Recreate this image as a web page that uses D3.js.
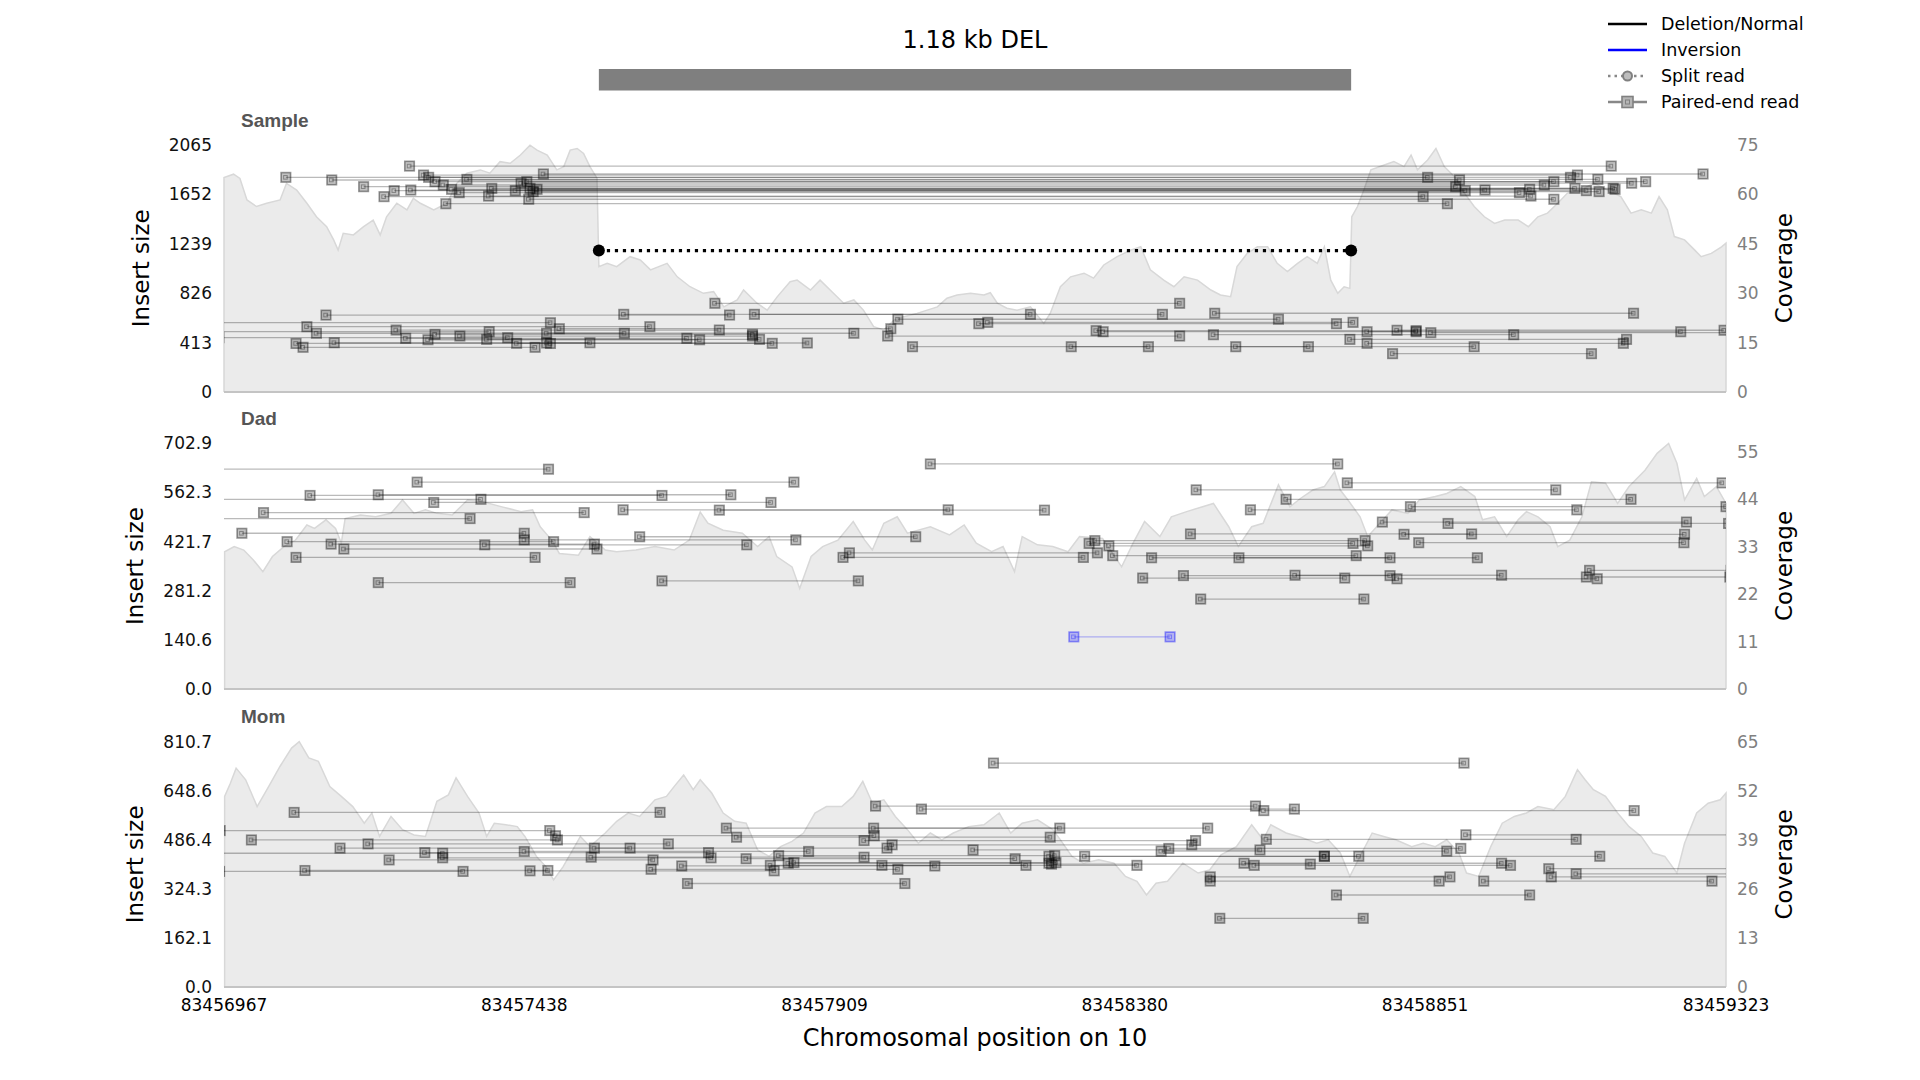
<!DOCTYPE html>
<html><head><meta charset="utf-8">
<script src="https://cdn.jsdelivr.net/npm/d3@7"></script>
<style>
body{margin:0;background:#fff;}
svg text{font-family:"DejaVu Sans",sans-serif;}
</style></head>
<body><svg id="chart" width="1920" height="1080"></svg>
<script>
// ---------------- data ----------------
const chromosome = "10";
const regionStart = 83456967, regionEnd = 83459323;
const xTickValues = [83456967, 83457438, 83457909, 83458380, 83458851, 83459323];
const svTitle = "1.18 kb DEL";
const svStart = 83457555, svEnd = 83458735;

const sampleNames = ["Sample", "Dad", "Mom"];
const sampleInsertTicks = [0, 413, 826, 1239, 1652, 2065];
const dadInsertTicks = [0, 140.6, 281.2, 421.7, 562.3, 702.9];
const momInsertTicks = [0, 162.1, 324.3, 486.4, 648.6, 810.7];
const sampleCovTicks = [0, 15, 30, 45, 60, 75];
const dadCovTicks = [0, 11, 22, 33, 44, 55];
const momCovTicks = [0, 13, 26, 39, 52, 65];
const covMaxima = [75, 57, 65];

const legendLabels = ["Deletion/Normal", "Inversion", "Split read", "Paired-end read"];

// paired-end reads: [start offset bp, end offset bp, insert size]
const samplePairs = [
 [97,1888,1791],[169,1938,1769],[291,2176,1885],[219,1932,1713],[251,1881,1630],[267,1947,1680],
 [293,1978,1685],[313,2123,1810],[321,2112,1791],[331,2086,1755],[344,2071,1727],[357,2048,1691],
 [369,2032,1663],[381,2155,1774],[348,1919,1571],[415,2050,1635],[420,2119,1699],[457,2137,1680],
 [475,2230,1755],[480,2179,1699],[478,2086,1608],[491,2182,1691],[501,2320,1819],[466,2208,1742],[485,2157,1672],
 [-75,512,578],[-87,416,503],[-8,445,453],[160,793,642],[130,668,545],[145,628,490],[113,512,405],
 [124,488,373],[173,574,411],[270,777,517],[285,726,448],[320,746,436],[331,829,481],[370,829,467],
 [412,840,439],[459,860,406],[506,915,409],[506,988,490],[526,1046,528],[627,1265,648],[770,1499,740],
 [832,1472,648],[1041,1499,467],[1057,1654,607],[1080,1450,378],[1184,1745,570],[1198,1771,581],
 [1329,1701,378],[1368,1870,512],[1379,1870,503],[1554,2211,657],[1552,2023,478],[1587,1961,378],
 [1766,2200,439],[1793,2195,406],[1793,2285,503],[1833,2145,320],[1893,2385,495],[1840,2353,515]
];
const sampleSplits = [[588,1768,1180]];

const dadPairs = [
 [-119,509,628],[303,894,591],[135,687,553],[242,795,555],[-139,403,542],[329,858,533],[-101,386,487],
 [62,565,504],[626,1136,512],[777,1287,511],[28,471,445],[99,517,421],[168,581,414],[188,585,400],
 [113,488,376],[409,820,412],[471,897,426],[652,1085,435],[242,543,304],[687,995,309],[1108,1747,643],
 [1762,2350,589],[1525,2089,569],[1666,2207,542],[1861,2356,521],[1610,2122,512],[1817,2294,477],
 [1920,2360,473],[1516,1957,443],[1851,2291,442],[1357,1771,416],[1388,1794,409],[1366,1790,424],
 [981,1370,389],[971,1348,376],[1394,1776,381],[1455,1829,375],[1592,1966,375],[1874,2290,418],
 [1441,1758,317],[1505,1829,324],[1680,2004,325],[1532,1788,257],[1840,2154,315],[2137,2362,320],[2142,2364,339]
];
const dadInversions = [[1333,1484,149]];

const momPairs = [
 [-6,511,517],[-99,343,442],[-7,375,382],[110,684,577],[43,523,486],[127,508,385],[182,637,459],
 [226,697,473],[259,673,420],[315,760,444],[343,764,427],[471,917,448],[520,1020,500],[576,1004,429],
 [581,1040,459],[670,1057,389],[718,1115,400],[727,1068,342],[480,863,384],[1207,1945,740],[1022,1618,598],
 [1094,1679,588],[788,1311,525],[1019,1543,525],[804,1296,495],[1004,1524,484],[1048,1518,470],
 [1175,1625,453],[819,1241,424],[857,1258,402],[870,1303,434],[885,1294,409],[894,1305,411],
 [1032,1432,402],[1350,1780,432],[1298,1704,406],[1294,1726,432],[1726,2158,432],[1482,1940,458],
 [1470,1918,449],[1616,2018,402],[1600,2004,409],[1635,2121,488],[1631,2212,583],[1547,1923,364],
 [1547,1906,350],[1976,2334,350],[1745,2048,304],[1562,1787,227],[1948,2451,503],[2078,2470,391],
 [2082,2446,364],[2121,2495,374]
];

// coverage: [offset bp, depth]
const sampleCoverage = [
 [0,65],[15,66],[25,64.7],[36,58.2],[51,56.2],[67,57.2],[88,58.2],[98,63.2],[114,61.2],[130,57.2],[145,53.1],
 [161,50.1],[172,46.1],[179,43],[187,48.1],[203,47.6],[219,50.1],[234,52.1],[245,47.6],[255,53.1],[271,57.2],
 [287,55.2],[297,58.7],[308,57.2],[329,55.2],[350,57.2],[365,63.2],[381,66.3],[402,67.3],[417,66.3],[433,69.8],
 [449,69.3],[465,71.8],[480,74.8],[491,73.3],[507,71.8],[522,67.3],[533,68.3],[543,73.3],[554,73.8],[564,72.3],
 [574,68.3],[585,64.8],[588,38],[601,39],[616,38],[637,41],[653,40],[669,37],[695,39],[711,34.9],[731,31.9],
 [752,29.9],[768,30.4],[784,25.8],[805,27.9],[815,30.9],[836,26.9],[852,24.8],[868,28.9],[888,33.4],[899,33.9],
 [920,30.9],[935,33.9],[956,29.9],[972,26.9],[988,27.9],[1003,24.8],[1019,19.8],[1035,18.8],[1051,21.8],
 [1066,22.8],[1087,23.8],[1103,24.8],[1119,25.8],[1134,28.4],[1150,29.4],[1171,29.9],[1192,29.4],[1202,30.1],
 [1213,26.9],[1228,25.4],[1244,24.8],[1265,25.8],[1286,20.8],[1296,23.8],[1312,31.9],[1328,34.9],[1349,36],
 [1364,34.5],[1380,38.5],[1401,41],[1422,43],[1438,44],[1453,37],[1474,33.9],[1490,31.9],[1506,34.9],
 [1527,33.9],[1548,30.9],[1563,29.4],[1579,28.9],[1589,38],[1605,42],[1621,44],[1637,44],[1652,39],
 [1668,36.5],[1684,39],[1699,41],[1715,39],[1726,44],[1736,33.9],[1747,29.9],[1757,31.9],[1766,31.4],
 [1769,53.1],[1778,56.2],[1788,61.2],[1799,67.3],[1820,68.8],[1835,69.8],[1851,68.3],[1862,71.8],[1872,67.3],
 [1888,70.3],[1901,73.8],[1914,68.3],[1930,65.2],[1946,60.2],[1961,56.2],[1977,53.1],[1993,51.1],[2009,52.1],
 [2030,52.1],[2046,50.1],[2061,53.1],[2076,54.2],[2092,57.2],[2107,60.2],[2128,61.2],[2149,63.2],[2170,61.2],
 [2191,59.2],[2207,54.2],[2223,55.2],[2239,54.2],[2251,59.2],[2264,55.2],[2275,47.1],[2291,46.1],[2307,43],
 [2317,41],[2333,42],[2349,44],[2356,45.1]
];
const dadCoverage = [
 [1,31.8],[16,33],[31,32.2],[46,29.9],[61,27.2],[76,30.7],[94,33],[112,34.5],[130,38],[142,37.2],[160,39.2],
 [175,37.2],[184,33.8],[190,39.5],[214,40.3],[238,39.9],[262,40.7],[280,43.8],[298,40.7],[316,41.5],[334,40.7],
 [358,40.3],[382,43.8],[406,43.4],[436,42.2],[466,41.1],[484,41.5],[496,37.6],[514,34.5],[526,31.4],[556,31],
 [574,35.3],[586,33.8],[598,32.2],[616,31.8],[646,32.2],[676,33],[706,32.2],[730,34.5],[747,41],[759,38.4],
 [783,36.8],[813,36.1],[837,33],[855,35.3],[867,30.7],[891,28.3],[903,23.3],[921,30.7],[939,33],[963,34.5],
 [987,38.8],[1005,34.5],[1017,32.2],[1035,38.4],[1056,39.9],[1072,36.1],[1108,37.6],[1138,35.7],[1161,38],
 [1180,33.8],[1204,31.8],[1222,33],[1240,27.2],[1252,35.3],[1276,33.4],[1300,33],[1324,31.8],[1342,35.3],
 [1378,34.9],[1408,28.3],[1426,33.8],[1444,38.8],[1468,35.3],[1486,39.9],[1510,41.1],[1552,43],[1576,37.6],
 [1591,33],[1612,37.6],[1630,38.4],[1654,47.3],[1672,42.2],[1689,44.2],[1708,46.1],[1726,46.9],[1742,50.3],
 [1751,46.1],[1763,43.8],[1782,39.9],[1794,35.3],[1813,38.4],[1832,41.5],[1857,40.7],[1875,43.8],[1900,44.6],
 [1918,45.3],[1940,46.9],[1962,44.6],[1974,39.2],[1993,39.9],[2012,35.3],[2030,39.2],[2043,41.1],[2061,39.9],
 [2080,37.6],[2092,33],[2111,34.5],[2130,39.9],[2145,48],[2167,47.7],[2186,43],[2204,46.9],[2229,50.7],
 [2248,54.6],[2266,56.9],[2279,52.3],[2291,43.8],[2310,48.8],[2322,44.6],[2341,46.9],[2356,43]
];
const momCoverage = [
 [1,50.5],[10,54],[19,58],[34,54.9],[52,47.8],[70,53.1],[88,58.5],[106,63.3],[118,65],[133,60.7],[148,59.8],
 [166,53.1],[184,50.5],[202,47.8],[220,43.4],[232,46.1],[244,39.9],[262,45.2],[280,41.7],[298,40.3],[316,39.9],
 [334,49.2],[352,50.9],[364,55.4],[382,50.5],[400,46.1],[412,39.9],[424,43.4],[442,43],[460,42.5],[472,39.9],
 [490,34.6],[505,31.9],[517,28.4],[532,31.9],[550,37.2],[559,39.9],[574,37.2],[598,40.8],[616,43.9],[634,46.1],
 [652,45.2],[676,49.6],[694,50.5],[706,53.1],[721,56.2],[736,52.3],[747,54.9],[765,51.4],[783,46.1],[801,43.9],
 [819,43.4],[837,36.3],[855,34.6],[873,37.2],[891,38.6],[909,40.8],[927,46.1],[945,47.8],[969,47.8],[987,50.5],
 [1002,54.5],[1017,48.7],[1035,49.6],[1053,45.2],[1072,41.7],[1089,38.1],[1108,40.8],[1126,39],[1144,40.8],
 [1168,42.5],[1192,43],[1216,46.1],[1234,40.8],[1252,43.4],[1276,44.3],[1300,41.7],[1312,39],[1330,34.6],
 [1348,32.8],[1372,33.7],[1396,32.8],[1414,29.3],[1432,28],[1447,24.4],[1462,27.5],[1480,28],[1504,32.8],
 [1528,30.2],[1546,31],[1564,35],[1588,37.2],[1612,43],[1630,39],[1642,43],[1666,40.8],[1689,39.7],[1714,38.1],
 [1732,39],[1751,35.5],[1766,29.3],[1782,34.6],[1801,40.8],[1819,39.9],[1838,39],[1863,37.2],[1881,38.1],
 [1900,37.2],[1918,39],[1937,35.5],[1949,30.2],[1968,29.3],[1987,37.2],[2005,43.4],[2024,45.2],[2043,46.1],
 [2061,47.8],[2086,47],[2104,50.5],[2123,57.6],[2135,54.9],[2148,52.3],[2167,50.5],[2186,46.1],[2204,42.5],
 [2223,39.9],[2241,35.5],[2260,34.6],[2279,30.2],[2291,38.1],[2310,46.1],[2328,48.7],[2347,49.6],[2356,51.4]
];

// ---------------- layout ----------------
const plotLeft = 224, plotRight = 1726;
const panelTops = [144.5, 443, 741.7];
const panelBottoms = [392, 689, 987];
const labelBaselines = [127, 425, 723];
const yLabelX = [149, 143, 143];

const svg = d3.select("#chart");
svg.append("rect").attr("width",1920).attr("height",1080).attr("fill","#fff");

const x = d3.scaleLinear().domain([regionStart, regionEnd]).range([plotLeft, plotRight]);

const panels = [
 {name: sampleNames[0], pairs: samplePairs, splits: sampleSplits, inv: [], cov: sampleCoverage,
  yTicks: sampleInsertTicks, fmt: d3.format("d"), covTicks: sampleCovTicks, covMax: covMaxima[0]},
 {name: sampleNames[1], pairs: dadPairs, splits: [], inv: dadInversions, cov: dadCoverage,
  yTicks: dadInsertTicks, fmt: d3.format(".1f"), covTicks: dadCovTicks, covMax: covMaxima[1]},
 {name: sampleNames[2], pairs: momPairs, splits: [], inv: [], cov: momCoverage,
  yTicks: momInsertTicks, fmt: d3.format(".1f"), covTicks: momCovTicks, covMax: covMaxima[2]}
];

// title + SV bar
svg.append("text").attr("x", (x(svStart)+x(svEnd))/2).attr("y", 48)
  .attr("text-anchor","middle").attr("font-size",24).attr("fill","#000").text(svTitle);
svg.append("rect").attr("x", x(svStart)).attr("y", 69).attr("width", x(svEnd)-x(svStart)).attr("height", 21.5)
  .attr("fill","#7f7f7f");

function drawSquare(g, cx, cy, color) {
  g.append("rect").attr("x", cx-4.75).attr("y", cy-4.75).attr("width", 9.5).attr("height", 9.5)
    .attr("fill", color).attr("fill-opacity", 0.24).attr("stroke", color).attr("stroke-opacity", 0.4).attr("stroke-width", 1.6);
  g.append("rect").attr("x", cx-2.2).attr("y", cy-1.8).attr("width", 3.6).attr("height", 3.6)
    .attr("fill","none").attr("stroke", color).attr("stroke-opacity", 0.33).attr("stroke-width", 1);
}

panels.forEach((p, i) => {
  const top = panelTops[i], bottom = panelBottoms[i];
  const y = d3.scaleLinear().domain([0, p.yTicks[p.yTicks.length-1]]).range([bottom, top]);
  const yc = d3.scaleLinear().domain([0, p.covMax]).range([bottom, top]);
  const g = svg.append("g");
  const clipId = "clip" + i;
  g.append("clipPath").attr("id", clipId).append("rect")
    .attr("x", plotLeft).attr("y", top - 40).attr("width", plotRight - plotLeft).attr("height", bottom - top + 40);

  // coverage
  const covPts = p.cov.map(d => [regionStart + d[0], d[1]]);
  const area = d3.area().x(d => x(d[0])).y0(bottom).y1(d => yc(d[1])).curve(d3.curveLinear);
  g.append("path").datum(covPts).attr("d", area).attr("fill", "#ebebeb").attr("clip-path", `url(#${clipId})`);
  const linePts = [[covPts[0][0], 0], ...covPts, [covPts[covPts.length-1][0], 0]];
  const line = d3.line().x(d => x(d[0])).y(d => yc(d[1])).curve(d3.curveLinear);
  g.append("path").datum(linePts).attr("d", line).attr("fill","none").attr("stroke","#d8d8d8").attr("stroke-width",1.5);

  // bottom spine
  g.append("line").attr("x1", plotLeft).attr("x2", plotRight).attr("y1", bottom).attr("y2", bottom)
    .attr("stroke", "#c4c4c4").attr("stroke-width", 2);

  const rg = g.append("g").attr("clip-path", `url(#${clipId})`);
  // paired-end lines
  const allPairs = p.pairs.map(d => ({d, color: "#000"})).concat(p.inv.map(d => ({d, color: "#0000ff"})));
  allPairs.forEach(({d, color}) => {
    rg.append("line").attr("x1", x(regionStart + d[0])).attr("x2", x(regionStart + d[1]))
      .attr("y1", y(d[2])).attr("y2", y(d[2])).attr("stroke", color).attr("stroke-opacity", 0.27).attr("stroke-width", 1.3);
  });
  allPairs.forEach(({d, color}) => {
    drawSquare(rg, x(regionStart + d[0]), y(d[2]), color);
    drawSquare(rg, x(regionStart + d[1]), y(d[2]), color);
  });
  // split reads
  p.splits.forEach(d => {
    rg.append("line").attr("x1", x(regionStart + d[0])).attr("x2", x(regionStart + d[1]))
      .attr("y1", y(d[2])).attr("y2", y(d[2])).attr("stroke", "#000").attr("stroke-width", 3.2)
      .attr("stroke-dasharray", "3.2,4.8");
    [d[0], d[1]].forEach(v => rg.append("circle").attr("cx", x(regionStart + v)).attr("cy", y(d[2])).attr("r", 6).attr("fill", "#000"));
  });

  // y ticks (insert size)
  p.yTicks.forEach(t => {
    g.append("text").attr("x", 212).attr("y", y(t)).attr("dy", "0.36em").attr("text-anchor", "end")
      .attr("font-size", 17).attr("fill", "#111").text(p.fmt(t));
  });
  // coverage ticks
  p.covTicks.forEach(t => {
    g.append("text").attr("x", 1737).attr("y", yc(t)).attr("dy", "0.36em").attr("text-anchor", "start")
      .attr("font-size", 17).attr("fill", "#808080").text(t);
  });
  // axis labels
  const mid = (top + bottom) / 2;
  g.append("text").attr("transform", `translate(${yLabelX[i]},${mid}) rotate(-90)`).attr("text-anchor", "middle")
    .attr("font-size", 23).attr("fill", "#000").text("Insert size");
  g.append("text").attr("transform", `translate(1792,${mid}) rotate(-90)`).attr("text-anchor", "middle")
    .attr("font-size", 23).attr("fill", "#000").text("Coverage");
  // panel label
  g.append("text").attr("x", 241).attr("y", labelBaselines[i]).attr("font-size", 19)
    .attr("font-weight", "bold").style("font-family", "'Liberation Sans', Arial, sans-serif")
    .attr("fill", "#555").text(p.name);
});

// x axis tick labels
xTickValues.forEach(v => {
  svg.append("text").attr("x", x(v)).attr("y", 1011).attr("text-anchor", "middle")
    .attr("font-size", 17).attr("fill", "#000").text(v);
});
svg.append("text").attr("x", (plotLeft + plotRight) / 2).attr("y", 1046).attr("text-anchor", "middle")
  .attr("font-size", 24).attr("fill", "#000").text("Chromosomal position on " + chromosome);

// legend
const legendY = [24, 50, 76, 102];
const lg = svg.append("g");
legendLabels.forEach((lab, i) => {
  const yy = legendY[i];
  const ln = lg.append("line").attr("x1", 1608).attr("x2", 1647).attr("y1", yy).attr("y2", yy).attr("stroke-width", 2.6);
  if (i === 0) ln.attr("stroke", "#000");
  if (i === 1) ln.attr("stroke", "#0000ff");
  if (i === 2) {
    ln.attr("stroke", "#888").attr("stroke-dasharray", "2.5,4");
    lg.append("circle").attr("cx", 1627.5).attr("cy", yy).attr("r", 4.5).attr("fill", "#bdbdbd").attr("stroke", "#808080").attr("stroke-width", 2);
  }
  if (i === 3) {
    ln.attr("stroke", "#888");
    lg.append("rect").attr("x", 1622).attr("y", yy - 5.5).attr("width", 11).attr("height", 11)
      .attr("fill", "#b5b5b5").attr("stroke", "#808080").attr("stroke-width", 1.6);
    lg.append("rect").attr("x", 1625.5).attr("y", yy - 2).attr("width", 4).attr("height", 4)
      .attr("fill", "none").attr("stroke", "#808080").attr("stroke-width", 1);
  }
  lg.append("text").attr("x", 1661).attr("y", yy).attr("dy", "0.35em").attr("font-size", 17.5).attr("fill", "#000").text(lab);
});
</script>
</body></html>
